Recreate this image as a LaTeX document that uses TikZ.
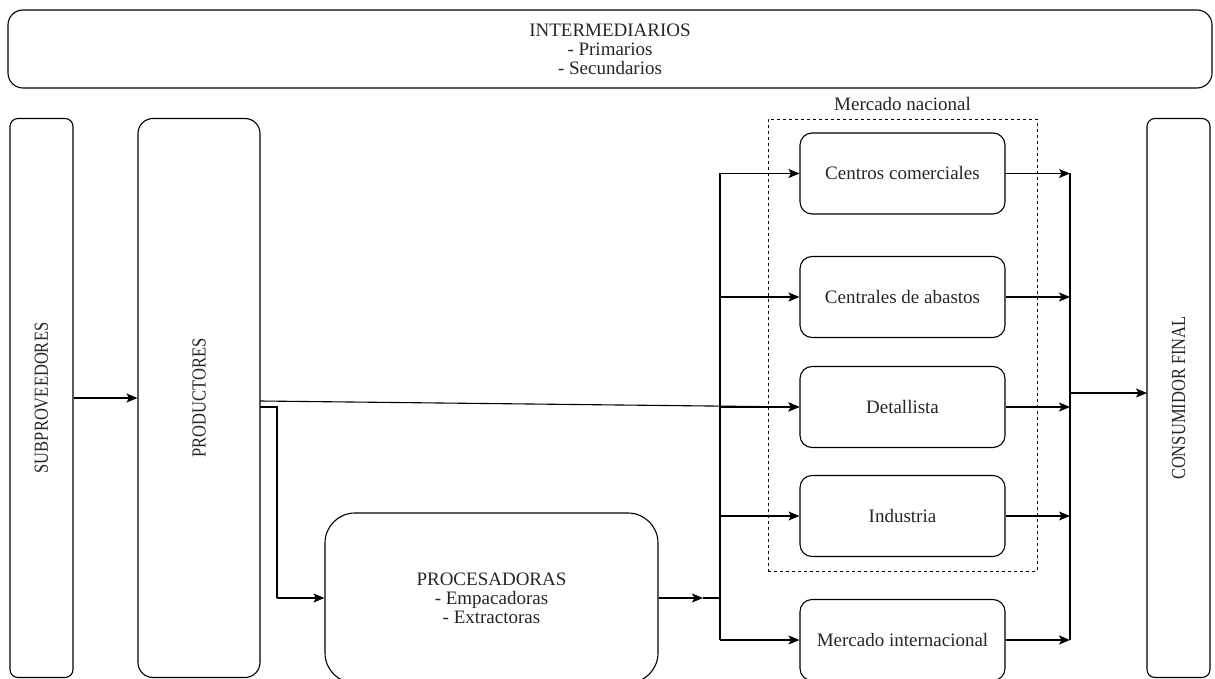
\documentclass[tikz,border=0pt]{standalone}
\usepackage{fontspec}
\usepackage{graphicx}
\setmainfont{Liberation Serif}
\usetikzlibrary{arrows.meta}
\begin{document}
\begin{tikzpicture}[x=1pt,y=-1pt,
  every node/.style={font=\fontsize{19}{19}\selectfont, text=black!85},
  box/.style={draw, line width=1.1pt, align=center, inner sep=0pt},
  arr/.style={line width=1.1pt, -{Stealth[length=11pt,width=9pt,inset=2.5pt]}},
  ln/.style={line width=1.1pt}]
\useasboundingbox (0,0) rectangle (1215,679);
% top
\node[box, rounded corners=15pt, minimum width=1204pt, minimum height=78pt] (inter) at (610,49)
  {INTERMEDIARIOS\\- Primarios\\- Secundarios};
% vertical columns
\node[box, rounded corners=8pt, rotate=90, minimum width=559pt, minimum height=63pt] (subp) at (41.5,398) {\scalebox{0.87}[1.05]{SUBPROVEEDORES}};
\node[box, rounded corners=15pt, rotate=90, minimum width=559pt, minimum height=122pt] (prod) at (199,398) {\scalebox{0.87}[1.05]{PRODUCTORES}};
\node[box, rounded corners=8pt, rotate=90, minimum width=559pt, minimum height=63pt] (cons) at (1178.5,398) {\scalebox{0.87}[1.05]{CONSUMIDOR FINAL}};
% procesadoras
\node[box, rounded corners=30pt, minimum width=333pt, minimum height=170pt] (proc) at (491.5,598)
  {PROCESADORAS\\- Empacadoras\\- Extractoras};
% national market frame
\node[draw, dashed, line width=0.9pt, minimum width=269pt, minimum height=452pt, inner sep=0pt] (nat) at (902.5,345) {};
\node (natlbl) at (902.5,104) {Mercado nacional};
% market boxes
\tikzset{mk/.style={box, rounded corners=12pt, minimum width=205pt, minimum height=81pt}}
\node[mk] (cc)  at (902.5,173.5) {Centros comerciales};
\node[mk] (ca)  at (902.5,297)   {Centrales de abastos};
\node[mk] (det) at (902.5,407)   {Detallista};
\node[mk] (ind) at (902.5,516)   {Industria};
\node[mk] (mi)  at (902.5,640)   {Mercado internacional};
% coordinates
\coordinate (pA) at (260,401);
\coordinate (pB) at (260,407);
\coordinate (pB1) at (277,407);
\coordinate (pB2) at (277,598);
\coordinate (tip) at (703,598);
\coordinate (bJ) at (720,598);
\coordinate (bT) at (720,173.5);
\coordinate (bB) at (720,640);
\coordinate (bcc) at (720,173.5);
\coordinate (bca) at (720,297);
\coordinate (bdt) at (720,407);
\coordinate (bin) at (720,516);
\coordinate (bmi) at (720,640);
\coordinate (occ) at (1070,173.5);
\coordinate (oca) at (1070,297);
\coordinate (odt) at (1070,407);
\coordinate (oin) at (1070,516);
\coordinate (omi) at (1070,640);
\coordinate (oJ) at (1070,393);
\coordinate (cin) at (1147,393);
% connectors
\draw[arr] (subp.south) -- (subp.south -| prod.north);
\draw[arr] (pA) -- (det.west);
\draw[ln] (pB) -- (pB1) -- (pB2);
\draw[arr] (pB2) -- (proc.west);
\draw[arr] (proc.east) -- (tip);
\draw[ln] (tip) -- (bJ);
\draw[ln] (bT) -- (bB);
\draw[arr] (bcc) -- (cc.west);
\draw[arr] (bca) -- (ca.west);
\draw[arr] (bdt) -- (det.west);
\draw[arr] (bin) -- (ind.west);
\draw[arr] (bmi) -- (mi.west);
\draw[arr] (cc.east) -- (occ);
\draw[arr] (ca.east) -- (oca);
\draw[arr] (det.east) -- (odt);
\draw[arr] (ind.east) -- (oin);
\draw[arr] (mi.east) -- (omi);
\draw[ln] (occ) -- (omi);
\draw[arr] (oJ) -- (cin);
\end{tikzpicture}
\end{document}
